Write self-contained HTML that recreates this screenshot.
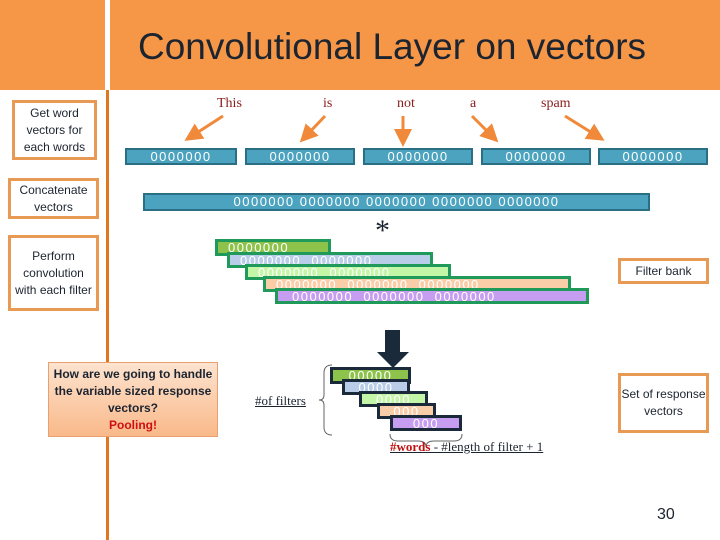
<!DOCTYPE html>
<html><head><meta charset="utf-8"><style>
*{margin:0;padding:0;box-sizing:border-box}
body{width:720px;height:540px;position:relative;background:#fff;overflow:hidden;font-family:"Liberation Sans",sans-serif}
.a{position:absolute}
.lb{position:absolute;border:3px solid #e89a55;background:#fff;color:#1c2430;font-size:12px;line-height:17px;text-align:center;display:flex;align-items:center;justify-content:center;font-weight:normal}
.wv{position:absolute;height:17px;background:#4ba3bf;border:2px solid #2b6f85;color:#fff;font-size:13px;line-height:13px;letter-spacing:1.5px;text-align:center;white-space:nowrap;overflow:hidden}
.w{position:absolute;font-family:"Liberation Serif",serif;font-size:14px;color:#8a1c1c}
.f{position:absolute;border:3px solid #1f9a5a;color:#fff;font-size:13px;line-height:11px;letter-spacing:1.5px;white-space:nowrap;overflow:hidden;padding-left:10px}
.r{position:absolute;border:3px solid #1b2a3a;color:#fff;font-size:13px;line-height:11px;letter-spacing:1.5px;white-space:nowrap;overflow:hidden;text-align:center}
</style></head><body>
<div class="a" style="left:0;top:0;width:105px;height:90px;background:#f69647"></div>
<div class="a" style="left:110px;top:0;width:610px;height:90px;background:#f69647"></div>
<div class="a" style="left:106px;top:90px;width:3px;height:450px;background:#e0761e"></div>
<div class="a" style="left:138px;top:26px;font-size:37px;color:#1c2430;white-space:nowrap">Convolutional Layer on vectors</div>

<div class="lb" style="left:12px;top:100px;width:85px;height:60px">Get word vectors for each words</div>
<div class="lb" style="left:8px;top:178px;width:91px;height:41px">Concatenate vectors</div>
<div class="lb" style="left:8px;top:235px;width:91px;height:76px">Perform convolution with each filter</div>
<div class="lb" style="left:48px;top:362px;width:170px;height:75px;border:1px solid #e8a070;background:linear-gradient(#fde3cf,#f9b98a);font-weight:bold;font-size:12px;line-height:17px"><div>How are we going to handle the variable sized response vectors?<br><span style="color:#d01010">Pooling!</span></div></div>
<div class="lb" style="left:618px;top:258px;width:91px;height:26px">Filter bank</div>
<div class="lb" style="left:618px;top:373px;width:91px;height:60px">Set of response vectors</div>

<div class="w" style="left:217px;top:96px">This</div>
<div class="w" style="left:323px;top:96px">is</div>
<div class="w" style="left:397px;top:96px">not</div>
<div class="w" style="left:470px;top:96px">a</div>
<div class="w" style="left:541px;top:96px">spam</div>

<svg class="a" style="left:0;top:0" width="720" height="540">
<defs><marker id="m" markerWidth="6" markerHeight="6" refX="3" refY="3" orient="auto"><path d="M0,0L6,3L0,6z" fill="#f08a3a"/></marker></defs>
<g stroke="#f08a3a" stroke-width="3" marker-end="url(#m)">
<line x1="223" y1="116" x2="192" y2="136"/>
<line x1="325" y1="116" x2="306" y2="136"/>
<line x1="403" y1="116" x2="403" y2="138"/>
<line x1="472" y1="116" x2="492" y2="136"/>
<line x1="565" y1="116" x2="597" y2="136"/>
</g>
<path d="M385,330h15v22h9l-16,16l-16,-16h8z" fill="#1b2a3a"/>
<path d="M332,365q-8,0 -8,8v22q0,5 -5,5q5,0 5,5v22q0,8 8,8" fill="none" stroke="#666" stroke-width="1"/>
<path d="M390,434q0,7 8,7h20q8,0 8,6q0,-6 8,-6h20q8,0 8,-7" fill="none" stroke="#666" stroke-width="1"/>
</svg>

<div class="wv" style="left:125px;top:148px;width:112px">0000000</div>
<div class="wv" style="left:245px;top:148px;width:110px">0000000</div>
<div class="wv" style="left:363px;top:148px;width:110px">0000000</div>
<div class="wv" style="left:481px;top:148px;width:110px">0000000</div>
<div class="wv" style="left:598px;top:148px;width:110px">0000000</div>
<div class="wv" style="left:143px;top:193px;width:507px;height:18px">0000000 0000000 0000000 0000000 0000000</div>
<div class="a" style="left:375px;top:214px;font-size:30px;color:#1c2430;font-family:'Liberation Serif',serif">*</div>

<div class="f" style="left:215px;top:239px;width:116px;height:17px;background:#8dc34a">0000000</div>
<div class="f" style="left:227px;top:252px;width:206px;height:16px;background:#b9cde8">0000000 &nbsp;0000000</div>
<div class="f" style="left:245px;top:264px;width:206px;height:16px;background:#c4f6a8">0000000 &nbsp;0000000</div>
<div class="f" style="left:263px;top:276px;width:308px;height:16px;background:#f9cda8">0000000 &nbsp;0000000 &nbsp;0000000</div>
<div class="f" style="left:275px;top:288px;width:314px;height:16px;background:#c69df0;padding-left:14px">0000000 &nbsp;0000000 &nbsp;0000000</div>

<div class="r" style="left:330px;top:367px;width:81px;height:17px;background:#8dc34a">00000</div>
<div class="r" style="left:342px;top:379px;width:68px;height:16px;background:#b9cde8">0000</div>
<div class="r" style="left:359px;top:391px;width:69px;height:16px;background:#c4f6a8">0000</div>
<div class="r" style="left:377px;top:403px;width:59px;height:16px;background:#f9cda8">000</div>
<div class="r" style="left:390px;top:415px;width:72px;height:16px;background:#c69df0">000</div>

<div class="a" style="left:255px;top:393px;font-family:'Liberation Serif',serif;font-size:13px;text-decoration:underline;color:#1c2430">#of filters</div>
<div class="a" style="left:390px;top:439px;font-family:'Liberation Serif',serif;font-size:13px;text-decoration:underline;color:#1c2430;white-space:nowrap"><b style="color:#c01010">#words</b> - #length of filter + 1</div>
<div class="a" style="left:657px;top:506px;font-size:16px;color:#1c2430">30</div>
</body></html>
